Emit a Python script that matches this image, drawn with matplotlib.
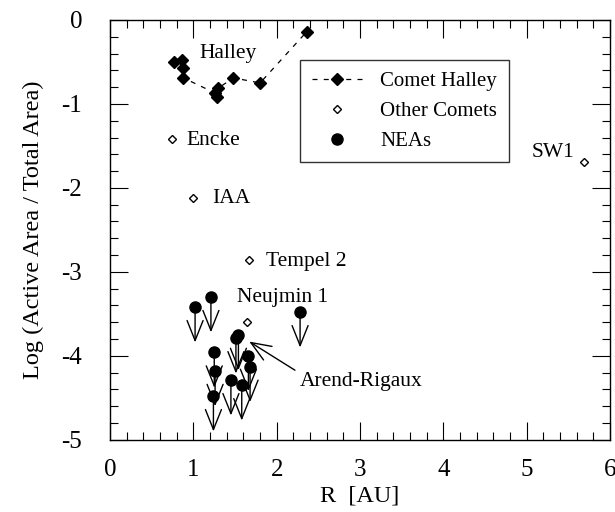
import matplotlib
matplotlib.use('Agg')
import matplotlib.pyplot as plt
from matplotlib.ticker import MultipleLocator

plt.rcParams['font.family'] = ['Liberation Serif', 'DejaVu Serif']
plt.rcParams['axes.unicode_minus'] = False

# Comet Halley (R, log area ratio)
halley_r = [0.77, 0.86, 0.88, 0.88, 1.26, 1.28, 1.30, 1.48, 1.80, 2.36]
halley_y = [-0.50, -0.48, -0.57, -0.69, -0.87, -0.92, -0.81, -0.69, -0.75, -0.14]

# other comets
comet_names = ['Encke', 'IAA', 'Tempel 2', 'Neujmin 1', 'SW1']
comet_r = [0.74, 1.00, 1.67, 1.64, 5.69]
comet_y = [-1.42, -2.12, -2.86, -3.60, -1.69]

# NEAs (upper limits)
nea_r = [1.02, 1.21, 2.28, 1.51, 1.54, 1.25, 1.26, 1.24, 1.45, 1.66, 1.68, 1.58]
nea_y = [-3.42, -3.30, -3.48, -3.79, -3.75, -3.96, -4.18, -4.48, -4.29, -4.00, -4.13, -4.35]

fig = plt.figure(figsize=(6.15, 5.12), dpi=100)
ax = fig.add_axes([0.179, 0.141, 0.813, 0.820])

ax.plot(halley_r, halley_y, ls=(0, (4, 5)), lw=0.9, color='black',
        marker='D', ms=6, mfc='black', mec='black', label='Comet Halley')
ax.plot(comet_r, comet_y, ls='none', marker='D', ms=4.5, mfc='white',
        mec='black', mew=1.0, label='Other Comets')
ax.plot(nea_r, nea_y, ls='none', marker='o', ms=8, color='black',
        label='NEAs', zorder=4)

arrow = '->,head_length=0.6,head_width=0.24'
for r, y in zip(nea_r, nea_y):
    ax.annotate('', xy=(r, y - 0.42), xytext=(r, y),
                arrowprops=dict(arrowstyle=arrow, lw=1.0, color='black',
                                mutation_scale=24, shrinkA=0, shrinkB=0))

# labels
ax.text(1.42, -0.40, 'Halley', fontsize=15.5, ha='center', va='center')
ax.text(0.92, -1.43, 'Encke', fontsize=15.5, va='center')
ax.text(1.22, -2.13, 'IAA', fontsize=15.5, va='center')
ax.text(1.87, -2.88, 'Tempel 2', fontsize=15.5, va='center')
ax.text(1.52, -3.30, 'Neujmin 1', fontsize=15.5, va='center')
ax.text(5.06, -1.58, 'SW1', fontsize=15.5, va='center')
ax.annotate('Arend-Rigaux', xy=(1.67, -3.83), xytext=(2.28, -4.30),
            fontsize=15.5, va='center',
            arrowprops=dict(arrowstyle=arrow, lw=1.0, color='black',
                            mutation_scale=24, shrinkA=2, shrinkB=0,
                            relpos=(0, 0.9)))

ax.set_xlim(0, 6)
ax.set_ylim(-5, 0)
ax.xaxis.set_major_locator(MultipleLocator(1))
ax.xaxis.set_minor_locator(MultipleLocator(0.2))
ax.yaxis.set_major_locator(MultipleLocator(1))
ax.yaxis.set_minor_locator(MultipleLocator(0.2))
ax.tick_params(which='both', direction='in', top=True, right=True,
               labelsize=18, width=0.8)
ax.tick_params(which='major', length=13)
ax.tick_params(which='minor', length=6)
ax.tick_params(axis='x', which='major', pad=14)
ax.tick_params(axis='y', which='major', pad=20)
for s in ax.spines.values():
    s.set_linewidth(1.0)

ax.set_xlabel('R  [AU]', fontsize=17.5, labelpad=3)
ax.set_ylabel('Log (Active Area / Total Area)', fontsize=17.5, labelpad=13)

leg = ax.legend(loc='upper left', bbox_to_anchor=(0.38, 0.905), fontsize=15,
                frameon=True, fancybox=False, edgecolor='black',
                borderaxespad=0, handlelength=2.4, handletextpad=0.9,
                borderpad=0.55, labelspacing=0.5)
leg.get_frame().set_linewidth(1.0)

fig.savefig('out.png', dpi=100)
